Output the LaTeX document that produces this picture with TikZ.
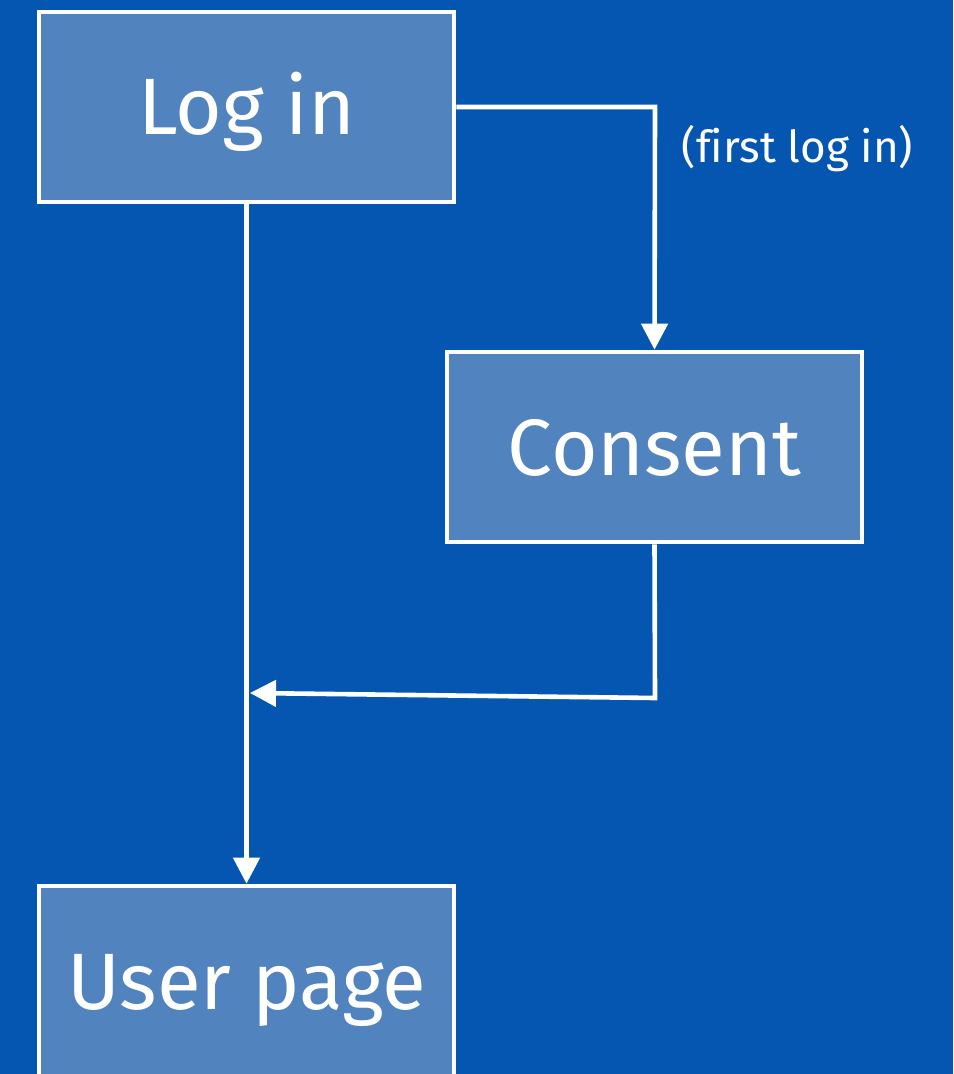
\documentclass[tikz,border=0pt]{standalone}
\usepackage{fontspec}
\setmainfont{Fira Sans}[Ligatures=NoCommon]
\usepackage{xcolor}
\usetikzlibrary{arrows.meta, positioning}
\definecolor{bgblue}{HTML}{0556B1}
\definecolor{boxblue}{HTML}{5183BE}
\tikzstyle{step box} = [rectangle, minimum width=207.5pt, minimum height=95pt, text centered, draw=white, line width=2.3pt, fill=boxblue, text=white, text height=28pt, text depth=0pt, font=\fontsize{40}{48}\selectfont]
\tikzstyle{arrow} = [draw=white, line width=2.3pt, -{Triangle[length=13pt,width=13pt]}]

\begin{document}
\begin{tikzpicture}[x=0.5pt, y=-0.5pt]
    % Background
    \fill[bgblue] (0,0) rectangle (953,1074);
    \useasboundingbox (0,0) rectangle (953,1074);
    \clip (0,0) rectangle (953,1074);

    % Steps
    \node[step box] (login) at (246.5,107) {Log in};
    \node[step box] (consent) at (654.5,447) {Consent};
    \node[step box] (userpage) at (246.5,981) {User page};

    % Turning points
    \coordinate (firstturn) at (655,107);
    \coordinate (backturn) at (655,698);
    \coordinate (joinpoint) at (250,693);

    % Flows
    \draw[arrow] (login.east) -- (firstturn) -- node[right, pos=0.17, xshift=9pt, text=white, font=\fontsize{22}{26}\selectfont] {(first log in)} (consent.north);
    \draw[arrow] (login.south) -- (userpage.north);
    \draw[arrow] (consent.south) -- (backturn) -- (joinpoint);

\end{tikzpicture}
\end{document}
